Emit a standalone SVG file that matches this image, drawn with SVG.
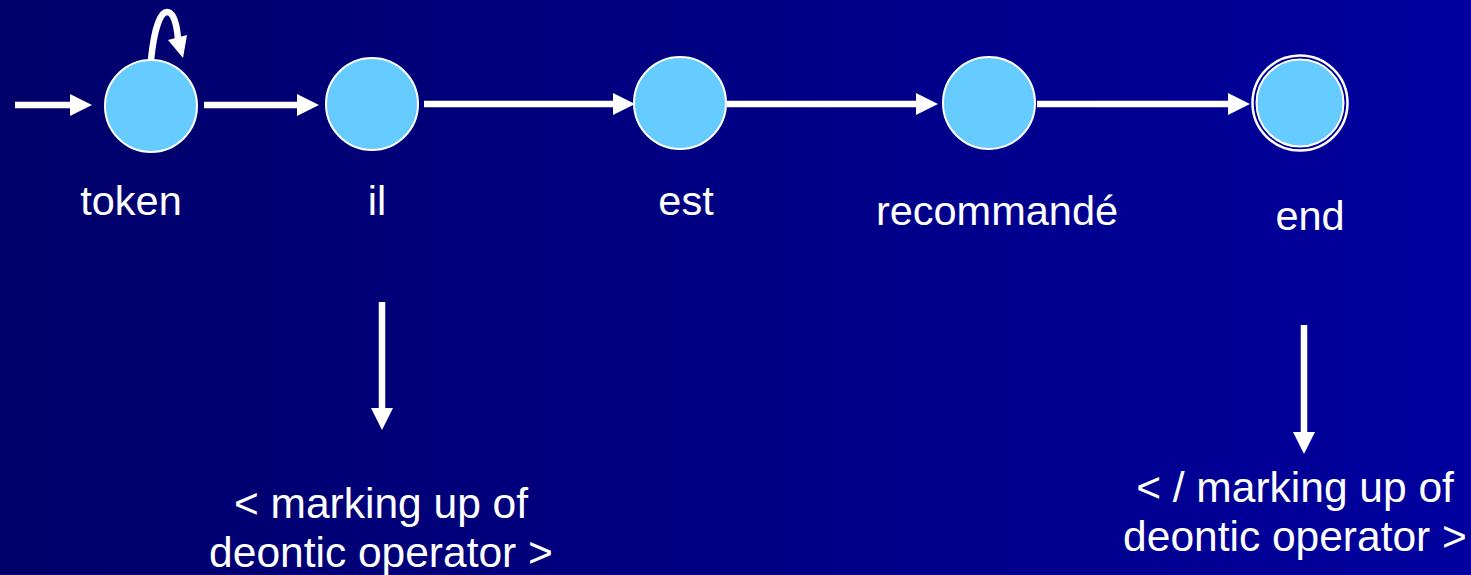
<svg xmlns="http://www.w3.org/2000/svg" width="1471" height="575" viewBox="0 0 1471 575">
  <defs>
    <linearGradient id="bg" x1="0" y1="0" x2="1" y2="0">
      <stop offset="0" stop-color="#00006A"/>
      <stop offset="1" stop-color="#00009E"/>
    </linearGradient>
    <marker id="head" markerUnits="userSpaceOnUse" markerWidth="22" markerHeight="22" refX="0" refY="11" orient="auto" overflow="visible">
      <path d="M0,0 L22,11 L0,22 z" fill="#FFFFFF"/>
    </marker>
    <style>
      .state { fill: #66CCFF; stroke: #FFFFFF; stroke-width: 2; }
      .ring { fill: none; stroke: #FFFFFF; stroke-width: 2.5; }
      .edge { stroke: #FFFFFF; stroke-width: 6.5; fill: none; marker-end: url(#head); }
      .lbl { font-family: "Liberation Sans", Arial, sans-serif; font-size: 41.5px; fill: #FFFFFF; text-anchor: middle; }
      .big { font-size: 42.5px; }
    </style>
  </defs>
  <rect x="0" y="0" width="1471" height="575" fill="url(#bg)"/>

  <g id="connectors">
    <line class="edge" x1="15" y1="105" x2="70" y2="105"/>
    <line class="edge" x1="204" y1="105" x2="297" y2="105"/>
    <line class="edge" x1="424" y1="104" x2="613" y2="104"/>
    <line class="edge" x1="727" y1="104" x2="916" y2="104"/>
    <line class="edge" x1="1037" y1="104" x2="1228" y2="104"/>
    <path class="edge" style="marker-end:none" d="M151,60 C154,30 160,12 167,12 C174,12 177,26 178,39"/>
    <path d="M168,40 L187,35 L183,58 z" fill="#FFFFFF"/>
    <line class="edge" x1="382" y1="302" x2="382" y2="408"/>
    <line class="edge" x1="1304" y1="325" x2="1304" y2="432"/>
  </g>

  <g id="node-token">
    <circle class="state" cx="151" cy="106" r="46"/>
    <text class="lbl" x="131" y="215">token</text>
  </g>
  <g id="node-il">
    <circle class="state" cx="372" cy="104" r="46"/>
    <text class="lbl" x="377" y="215">il</text>
  </g>
  <g id="node-est">
    <circle class="state" cx="680" cy="103" r="46"/>
    <text class="lbl" x="686" y="215">est</text>
  </g>
  <g id="node-recommande">
    <circle class="state" cx="989" cy="103" r="46"/>
    <text class="lbl" x="997" y="225">recommandé</text>
  </g>
  <g id="node-end">
    <circle class="ring" cx="1300" cy="103" r="47.5"/>
    <circle class="state" cx="1300" cy="103" r="43.5"/>
    <text class="lbl" x="1310" y="230">end</text>
  </g>

  <g id="node-open-tag">
    <text class="lbl big" x="381" y="518">&lt; marking up of</text>
    <text class="lbl big" x="381" y="567">deontic operator &gt;</text>
  </g>
  <g id="node-close-tag">
    <text class="lbl big" x="1295" y="502">&lt; / marking up of</text>
    <text class="lbl big" x="1295" y="551">deontic operator &gt;</text>
  </g>
</svg>
